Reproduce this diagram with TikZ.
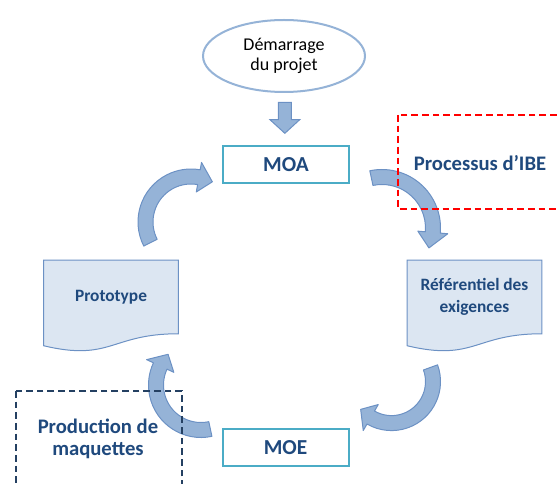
\documentclass[tikz,border=0pt]{standalone}
\usepackage{fontspec}
\setmainfont{Carlito}
\usetikzlibrary{shapes.geometric,shapes.arrows,calc,backgrounds}
\definecolor{ibeBlue}{RGB}{31,73,125}
\definecolor{ibeTeal}{RGB}{75,172,198}
\definecolor{ibeSky}{RGB}{149,179,215}
\definecolor{ibeEdge}{RGB}{108,145,196}
\definecolor{ibePale}{RGB}{220,230,242}
\definecolor{ibeRed}{RGB}{255,0,0}
\definecolor{ibeNavy}{RGB}{36,64,98}

\newcommand{\cyclearrow}[5]{%
  \pgfmathsetmacro{\rout}{#3+7.5}\pgfmathsetmacro{\rin}{#3-7.5}%
  \pgfmathsetmacro{\hout}{#3+15}\pgfmathsetmacro{\hin}{#3-15}%
  \pgfmathsetmacro{\tipangle}{#5+18}%
  \draw[turnarrow] ([shift={(#4:\rout)}]#1,#2) arc[start angle=#4, end angle=#5, radius=\rout]
    -- ([shift={(#5:\hout)}]#1,#2) -- ([shift={(\tipangle:#3)}]#1,#2) -- ([shift={(#5:\hin)}]#1,#2)
    -- ([shift={(#5:\rin)}]#1,#2) arc[start angle=#5, end angle=#4, radius=\rin] -- cycle;}

\begin{document}
\begin{tikzpicture}[x=0.75pt, y=-0.75pt,
    actor/.style={draw=ibeTeal, line width=1.5pt, fill=white, text=ibeBlue,
        minimum width=94.5pt, minimum height=27.75pt, font=\fontsize{16}{19}\selectfont\bfseries},
    docnode/.style={text=ibeBlue, align=center, minimum width=100.5pt, minimum height=54.75pt,
        font=\fontsize{13}{16.5}\selectfont\bfseries},
    docshape/.style={draw=ibeEdge, fill=ibePale, line width=0.75pt},
    turnarrow/.style={draw=ibeEdge, fill=ibeSky, line width=0.75pt, line join=round},
    grouplabel/.style={text=ibeBlue, align=center, font=\fontsize{15.5}{16.5}\selectfont\bfseries},
    groupframe/.style={line width=1.5pt, dash pattern=on 5pt off 3pt}
]
\useasboundingbox (0,0) rectangle (557,484);
\clip (0,0) rectangle (557,484);

\node[ellipse, draw=ibeSky, line width=1.5pt, fill=white, minimum width=121.5pt, minimum height=54pt,
    align=center, font=\fontsize{13.5}{14.5}\selectfont] (start) at (284,56) {Démarrage\\du projet};
\node[actor] (moa) at (286,164.5) {MOA};
\node[actor] (moe) at (285.5,448) {MOE};
\node[docnode] (proto) at (111,297) {Prototype};
\node[docnode] (refex) at (474.5,297) {Référentiel des\\exigences};

\begin{scope}[on background layer]
\foreach \d in {proto,refex}
    \draw[docshape] ($(\d.south west)+(0,12)$) -- (\d.north west) -- (\d.north east) -- (\d.south east)
        .. controls (\d.south) and ($(\d.south)+(0,28)$) .. ($(\d.south west)+(0,12)$) -- cycle;
\end{scope}

\node[single arrow, rotate=-90, draw=ibeEdge, fill=ibeSky, line width=0.75pt, inner xsep=0pt,
    inner ysep=4.5pt, minimum height=23.25pt, single arrow head extend=6.4pt,
    single arrow tip angle=95] (go) at ($(start.south)!0.42!(moa.north)$) {};

\cyclearrow{191}{222}{45.5}{153}{280}
\cyclearrow{382}{228}{51}{-102}{5}
\cyclearrow{391.5}{381.6}{41.5}{-20}{120}
\cyclearrow{201}{385}{45}{78}{205}

\draw[groupframe, draw=ibeRed] (398,115) rectangle (570,209);
\draw[groupframe, draw=ibeNavy] (16,391) rectangle (182,500);
\node[grouplabel] (ibe) at (480,163) {Processus d’IBE};
\node[grouplabel] (maq) at (98,439) {Production de\\maquettes};
\end{tikzpicture}
\end{document}
